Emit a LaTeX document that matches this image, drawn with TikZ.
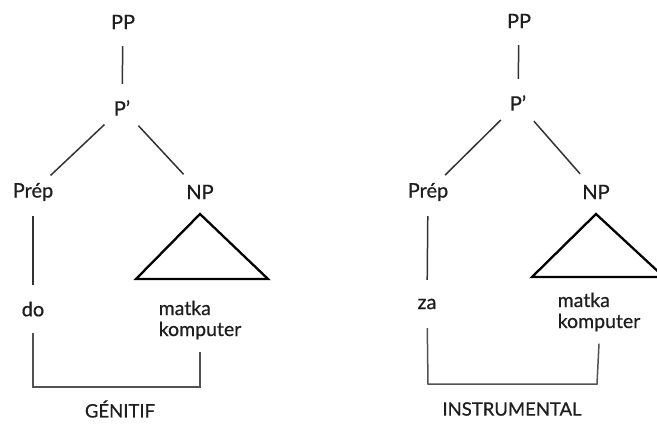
\documentclass[tikz,border=0pt]{standalone}
\usepackage{fontspec}
\setmainfont{Lato}[FakeBold=0.6,BoldFont={Lato}]
\definecolor{txt}{HTML}{1E1E1E}
\definecolor{ln}{HTML}{333333}
\tikzset{
  lbl/.style={circle,minimum size=48pt,inner sep=0pt,text=txt,font=\fontsize{20}{22}\selectfont\bfseries},
  words/.style={align=left,inner sep=0pt,text=txt,font=\fontsize{19.5}{21}\selectfont\bfseries},
  caselbl/.style={inner sep=0pt,text=txt,font=\fontsize{18.5}{20}\selectfont\bfseries},
  branch/.style={draw=ln,line width=1.5pt},
  brk/.style={draw=ln!85,line width=1.5pt},
  tri/.style={draw=black,line width=2.3pt,line join=miter},
}
\begin{document}
\begin{tikzpicture}[x=1pt,y=-1pt]
\useasboundingbox (0,0) rectangle (657,424);
% ---------- left tree
\node[lbl] (pp) at (123,22) {PP};
\node[lbl] (p1) at (122,108) {P'};
\node[lbl] (prep) at (33,192) {Prép};
\node[lbl] (np) at (200,192) {NP};
\node[lbl] (do) at (33,309) {do};
\node[words] (mk) at (200,320) {matka\\komputer};
\node[caselbl] (gen) at (120,409) {GÉNITIF};
\coordinate (gl) at (33,387);
\coordinate (gr) at (200,387);
\draw[branch] (pp) -- (p1);
\draw[branch] (p1) -- (prep);
\draw[branch] (p1) -- (np);
\draw[branch] (prep) -- (do);
\draw[tri] ([yshift=-22pt]np.center) -- ++(-64,65) -- ++(132,0) -- cycle;
\draw[brk,line join=miter] (do) -- (gl) -- (gr) -- ([yshift=-12pt]mk.south);
% ---------- right tree
\node[lbl] (ppr) at (519,21) {PP};
\node[lbl] (p1r) at (518,103) {P'};
\node[lbl] (prepr) at (428,192) {Prép};
\node[lbl] (npr) at (596,192) {NP};
\node[lbl] (za) at (427,304) {za};
\node[words] (mkr) at (599,312) {matka\\komputer};
\node[caselbl] (ins) at (512,409) {INSTRUMENTAL};
\coordinate (il) at (428,384);
\coordinate (ir) at (597,384);
\draw[branch] (ppr) -- (p1r);
\draw[branch] (p1r) -- (prepr);
\draw[branch] (p1r) -- (npr);
\draw[branch] (prepr) -- (za);
\draw[tri] ([yshift=-22pt]npr.center) -- ++(-64,63) -- ++(132,0) -- cycle;
\draw[brk,line join=miter] (za) -- (il) -- (ir) -- ([yshift=-12pt]mkr.south);
\end{tikzpicture}
\end{document}
